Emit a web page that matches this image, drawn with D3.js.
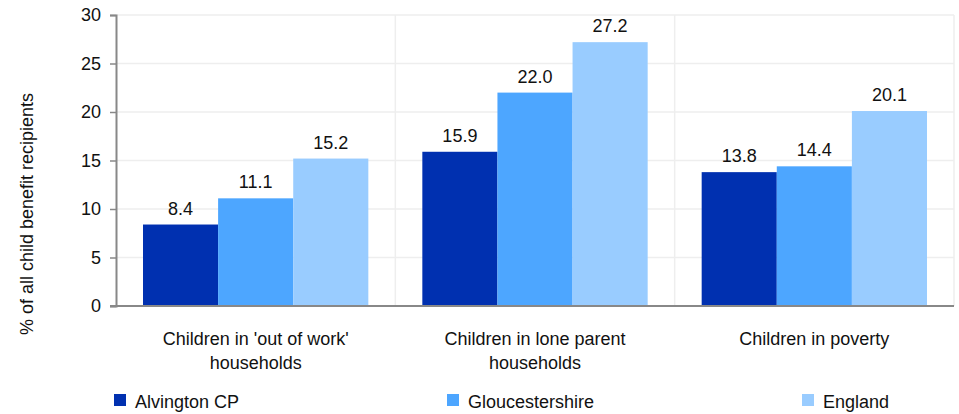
<!DOCTYPE html>
<html>
<head>
<meta charset="utf-8">
<script src="https://cdn.jsdelivr.net/npm/d3@7"></script>
<style>
  body { margin: 0; background: #fff; }
  svg { display: block; font-family: "Liberation Sans", Arial, sans-serif; }
</style>
</head>
<body>
<svg width="959" height="414"></svg>
<script>
// Chart data
var categories = [["Children in 'out of work'", "households"], ["Children in lone parent", "households"], ["Children in poverty"]];
var seriesNames = ["Alvington CP", "Gloucestershire", "England"];
var alvington = [8.4, 15.9, 13.8];
var gloucestershire = [11.1, 22.0, 14.4];
var england = [15.2, 27.2, 20.1];
var yTicks = [0, 5, 10, 15, 20, 25, 30];

var seriesValues = [alvington, gloucestershire, england];
var colors = ["#0030B0", "#4DA6FF", "#99CCFF"];

var svg = d3.select("svg");
var plotLeft = 116, plotRight = 954, plotTop = 15, plotBottom = 306;
var fontSize = "18px";

var x0 = d3.scaleBand()
    .domain(d3.range(categories.length))
    .range([plotLeft, plotRight]);

var x1 = d3.scaleBand()
    .domain(d3.range(seriesNames.length))
    .range([27, x0.bandwidth() - 27]);

var y = d3.scaleLinear().domain([0, 30]).range([plotBottom, plotTop]);

// gridlines
svg.selectAll(".hgrid")
    .data(yTicks.slice(1))
    .enter()
    .append("line")
    .attr("x1", plotLeft).attr("x2", plotRight)
    .attr("y1", d => y(d)).attr("y2", d => y(d))
    .attr("stroke", "#eeeeee").attr("stroke-width", 1.5);

svg.selectAll(".vgrid")
    .data(d3.range(1, categories.length + 1))
    .enter()
    .append("line")
    .attr("x1", d => plotLeft + d * x0.bandwidth()).attr("x2", d => plotLeft + d * x0.bandwidth())
    .attr("y1", plotTop).attr("y2", plotBottom)
    .attr("stroke", "#eeeeee").attr("stroke-width", 1.5);

// bars
var groups = svg.selectAll(".group")
    .data(categories)
    .enter()
    .append("g")
    .attr("transform", (d, i) => "translate(" + x0(i) + ",0)");

groups.each(function (c, ci) {
    var g = d3.select(this);
    var vals = seriesValues.map(s => s[ci]);
    g.selectAll("rect")
        .data(vals)
        .enter()
        .append("rect")
        .attr("x", (d, i) => x1(i))
        .attr("width", x1.bandwidth())
        .attr("y", d => y(d))
        .attr("height", d => plotBottom - y(d))
        .attr("fill", (d, i) => colors[i]);
    g.selectAll(".val")
        .data(vals)
        .enter()
        .append("text")
        .attr("x", (d, i) => x1(i) + x1.bandwidth() / 2)
        .attr("y", d => y(d) - 10)
        .attr("text-anchor", "middle")
        .attr("font-size", fontSize)
        .attr("fill", "#111")
        .text(d => d.toFixed(1));
});

// y axis
var yAxis = svg.append("g")
    .attr("transform", "translate(" + plotLeft + ",0)")
    .call(d3.axisLeft(y).tickValues(yTicks).tickSize(6).tickPadding(9));
yAxis.select(".domain").attr("stroke", "#888").attr("stroke-width", 2);
yAxis.selectAll(".tick line").attr("stroke", "#888").attr("stroke-width", 1.5);
yAxis.selectAll(".tick text").attr("font-size", fontSize).attr("fill", "#111")
    .attr("font-family", "Liberation Sans, Arial, sans-serif");

// x axis line
svg.append("line")
    .attr("x1", plotLeft - 6).attr("x2", plotRight)
    .attr("y1", plotBottom).attr("y2", plotBottom)
    .attr("stroke", "#888").attr("stroke-width", 2);

// category labels
svg.selectAll(".cat")
    .data(categories)
    .enter()
    .append("text")
    .attr("text-anchor", "middle")
    .attr("font-size", fontSize)
    .attr("fill", "#111")
    .attr("x", (d, i) => x0(i) + x0.bandwidth() / 2)
    .attr("y", 345)
    .each(function (d) {
        var t = d3.select(this);
        d.forEach(function (line, li) {
            t.append("tspan")
                .attr("x", t.attr("x"))
                .attr("dy", li === 0 ? 0 : 24)
                .text(line);
        });
    });

// y title
svg.append("text")
    .attr("transform", "translate(33,214) rotate(-90)")
    .attr("text-anchor", "middle")
    .attr("font-size", fontSize)
    .attr("fill", "#111")
    .text("% of all child benefit recipients");

// legend
var legendX = [114, 447, 802];
var legend = svg.selectAll(".legend")
    .data(seriesNames)
    .enter()
    .append("g")
    .attr("transform", (d, i) => "translate(" + legendX[i] + ",394)");
legend.append("rect")
    .attr("width", 12).attr("height", 12)
    .attr("fill", (d, i) => colors[i]);
legend.append("text")
    .attr("x", 21).attr("y", 14)
    .attr("font-size", fontSize)
    .attr("fill", "#111")
    .text(d => d);
</script>
</body>
</html>
